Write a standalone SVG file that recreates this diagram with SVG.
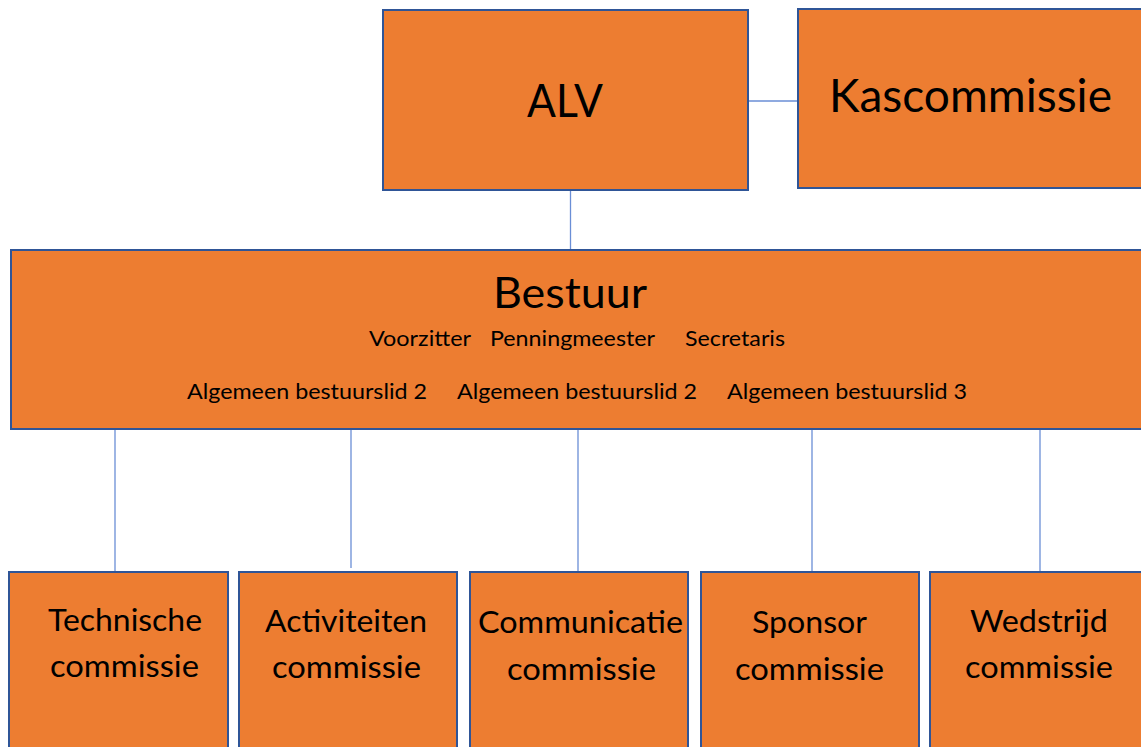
<svg xmlns="http://www.w3.org/2000/svg" width="1141" height="747" viewBox="0 0 1141 747">
<style>
.box{fill:#ED7D31;stroke:#2F5597;stroke-width:2}
.t{font-family:Lato,"Open Sans","Liberation Sans",sans-serif;fill:#000;text-anchor:start}
.c{stroke:#6A8ED6;stroke-width:1.3;fill:none}
</style>
<rect width="1141" height="747" fill="#fff"/>
<g id="connectors">
<line class="c" x1="748" y1="101" x2="798" y2="101"/>
<line class="c" x1="570.5" y1="190" x2="570.5" y2="253"/>
<line class="c" x1="115" y1="430" x2="115" y2="572"/>
<line class="c" x1="351" y1="430" x2="351" y2="568"/>
<line class="c" x1="578" y1="430" x2="578" y2="572"/>
<line class="c" x1="812" y1="430" x2="812" y2="572"/>
<line class="c" x1="1040" y1="430" x2="1040" y2="572"/>
</g>
<g id="alv">
<rect class="box" x="383" y="10" width="365" height="180"/>
<text class="t" x="527" y="117" font-size="46" textLength="76" lengthAdjust="spacingAndGlyphs">ALV</text>
</g>
<g id="kascommissie">
<rect class="box" x="798" y="9" width="360" height="179"/>
<text class="t" x="829" y="112" font-size="46" textLength="283" lengthAdjust="spacingAndGlyphs">Kascommissie</text>
</g>
<g id="bestuur">
<rect class="box" x="11" y="250" width="1145" height="179"/>
<text class="t" x="493" y="308" font-size="43" textLength="154" lengthAdjust="spacingAndGlyphs">Bestuur</text>
<text class="t" x="369" y="346" font-size="22" textLength="102" lengthAdjust="spacingAndGlyphs">Voorzitter</text>
<text class="t" x="490" y="346" font-size="22" textLength="165" lengthAdjust="spacingAndGlyphs">Penningmeester</text>
<text class="t" x="685" y="346" font-size="22" textLength="100" lengthAdjust="spacingAndGlyphs">Secretaris</text>
<text class="t" x="187" y="399" font-size="22" textLength="240" lengthAdjust="spacingAndGlyphs">Algemeen bestuurslid 2</text>
<text class="t" x="457" y="399" font-size="22" textLength="240" lengthAdjust="spacingAndGlyphs">Algemeen bestuurslid 2</text>
<text class="t" x="727" y="399" font-size="22" textLength="240" lengthAdjust="spacingAndGlyphs">Algemeen bestuurslid 3</text>
</g>
<g id="technische">
<rect class="box" x="9" y="572" width="219" height="190"/>
<text class="t" x="48" y="631" font-size="31" textLength="154" lengthAdjust="spacingAndGlyphs">Technische</text>
<text class="t" x="50" y="677" font-size="31" textLength="149" lengthAdjust="spacingAndGlyphs">commissie</text>
</g>
<g id="activiteiten">
<rect class="box" x="239" y="572" width="218" height="190"/>
<text class="t" x="265" y="632" font-size="31" textLength="162" lengthAdjust="spacingAndGlyphs">Activiteiten</text>
<text class="t" x="272" y="678" font-size="31" textLength="149" lengthAdjust="spacingAndGlyphs">commissie</text>
</g>
<g id="communicatie">
<rect class="box" x="470" y="572" width="218" height="190"/>
<text class="t" x="478" y="633" font-size="31" textLength="205" lengthAdjust="spacingAndGlyphs">Communicatie</text>
<text class="t" x="507" y="680" font-size="31" textLength="149" lengthAdjust="spacingAndGlyphs">commissie</text>
</g>
<g id="sponsor">
<rect class="box" x="701" y="572" width="218" height="190"/>
<text class="t" x="752" y="633" font-size="31" textLength="115" lengthAdjust="spacingAndGlyphs">Sponsor</text>
<text class="t" x="735" y="680" font-size="31" textLength="149" lengthAdjust="spacingAndGlyphs">commissie</text>
</g>
<g id="wedstrijd">
<rect class="box" x="930" y="572" width="218" height="190"/>
<text class="t" x="970" y="632" font-size="31" textLength="138" lengthAdjust="spacingAndGlyphs">Wedstrijd</text>
<text class="t" x="965" y="678" font-size="31" textLength="148" lengthAdjust="spacingAndGlyphs">commissie</text>
</g>
</svg>
